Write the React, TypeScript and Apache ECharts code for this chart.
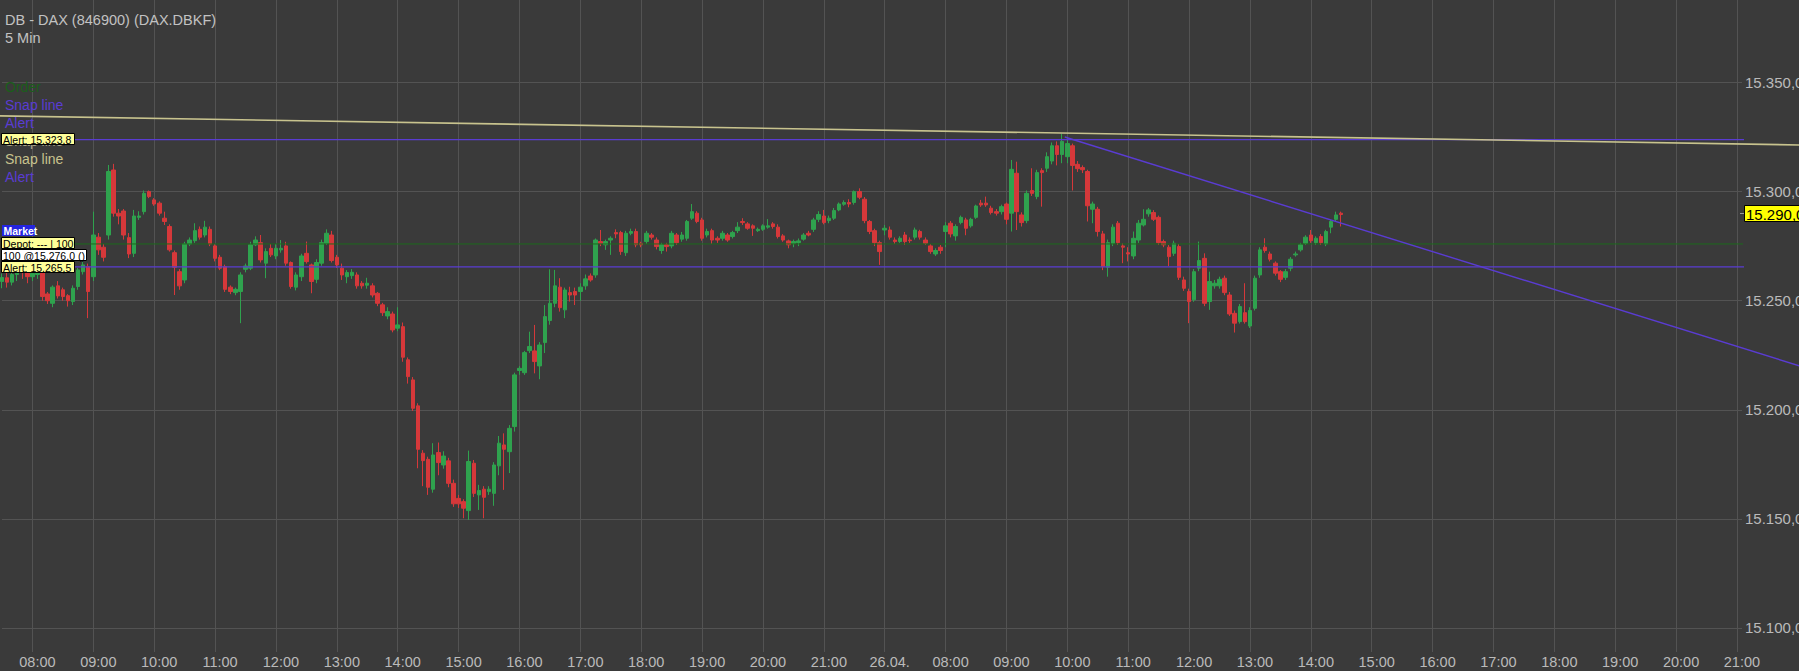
import React, { useEffect, useRef } from 'react';
import * as echarts from 'echarts';

// ---------- axis / category data ----------
const leadSlots = ['07:30', '07:35', '07:40', '07:45', '07:50', '07:55'];
const hourLabels = [
  '08:00', '09:00', '10:00', '11:00', '12:00', '13:00', '14:00', '15:00', '16:00', '17:00', '18:00', '19:00', '20:00', '21:00',
  '26.04.',
  '08:00', '09:00', '10:00', '11:00', '12:00', '13:00', '14:00', '15:00', '16:00', '17:00', '18:00', '19:00', '20:00', '21:00',
];
const lastHourSlots = 2;
const priceMin = 15089.0;
const priceMax = 15387.8;

// ---------- candles: [open, close, low, high] ----------
type Bar = [number, number, number, number];
const session1: Bar[] = [
  [15258.8, 15260.6, 15255.7, 15262.5], [15260.5, 15258.5, 15256.0, 15263.0], [15258.5, 15262.0, 15257.0, 15264.0],
  [15262.0, 15265.0, 15259.0, 15267.0], [15265.0, 15263.0, 15260.0, 15268.0], [15263.0, 15261.0, 15258.0, 15266.0],
  [15261.0, 15262.5, 15259.0, 15265.0], [15262.0, 15264.0, 15260.0, 15266.0], [15263.3, 15251.9, 15250.0, 15265.0],
  [15253.1, 15250.0, 15248.5, 15254.0], [15248.8, 15256.2, 15247.0, 15257.0], [15256.8, 15252.2, 15251.0, 15259.0],
  [15255.0, 15251.9, 15250.0, 15256.0], [15252.3, 15250.0, 15247.3, 15253.0], [15249.6, 15255.7, 15248.0, 15257.0],
  [15256.5, 15264.1, 15255.0, 15265.0], [15263.3, 15266.4, 15262.0, 15268.0], [15265.6, 15254.2, 15242.0, 15267.0],
  [15261.0, 15280.1, 15259.0, 15290.8], [15279.1, 15273.3, 15271.0, 15281.0], [15274.5, 15269.9, 15268.0, 15276.0],
  [15280.1, 15309.2, 15278.0, 15312.2], [15309.9, 15290.1, 15288.5, 15312.7], [15290.1, 15288.8, 15285.0, 15292.0],
  [15291.1, 15280.1, 15278.0, 15292.0], [15278.9, 15271.4, 15269.5, 15281.0], [15271.7, 15288.8, 15270.0, 15291.6],
  [15288.2, 15288.8, 15287.0, 15291.0], [15290.8, 15299.2, 15289.5, 15300.5], [15300.0, 15297.7, 15297.0, 15300.5],
  [15296.2, 15294.3, 15293.5, 15297.0], [15294.7, 15290.1, 15289.0, 15295.5], [15287.8, 15286.3, 15284.7, 15290.8],
  [15284.0, 15273.3, 15272.5, 15285.0], [15272.0, 15265.3, 15252.6, 15273.0], [15263.3, 15256.8, 15255.0, 15264.5],
  [15259.5, 15276.0, 15258.0, 15277.0], [15276.0, 15277.8, 15275.0, 15279.0], [15277.5, 15282.1, 15276.5, 15285.5],
  [15282.7, 15279.1, 15278.0, 15284.0], [15280.1, 15283.7, 15279.0, 15286.6], [15282.7, 15276.0, 15275.0, 15284.0],
  [15275.1, 15269.4, 15268.0, 15276.0], [15269.9, 15264.9, 15264.0, 15271.0], [15265.6, 15255.2, 15254.0, 15266.5],
  [15256.2, 15254.2, 15253.0, 15257.0], [15253.7, 15255.2, 15252.5, 15256.0], [15254.2, 15261.8, 15239.7, 15263.0],
  [15264.4, 15265.9, 15263.0, 15267.0], [15264.9, 15275.6, 15264.0, 15277.0], [15275.6, 15277.8, 15275.0, 15279.5],
  [15276.6, 15268.7, 15267.5, 15280.1], [15267.2, 15272.5, 15260.3, 15274.0], [15274.0, 15271.0, 15270.0, 15276.0],
  [15270.5, 15274.0, 15269.0, 15276.0],
];
const session2: Bar[] = [
  [15273.3, 15274.0, 15272.0, 15277.8], [15275.1, 15267.2, 15266.0, 15277.0], [15267.5, 15256.5, 15255.5, 15268.0],
  [15256.2, 15261.8, 15254.7, 15263.0], [15261.0, 15270.5, 15259.0, 15271.5], [15271.7, 15267.9, 15267.0, 15277.1],
  [15266.4, 15258.8, 15253.4, 15267.0], [15259.8, 15267.5, 15258.0, 15269.0], [15267.2, 15276.6, 15266.0, 15278.0],
  [15276.3, 15280.9, 15275.5, 15282.7], [15280.1, 15268.4, 15267.5, 15282.0], [15269.9, 15266.4, 15265.0, 15271.0],
  [15264.9, 15261.8, 15259.5, 15267.0], [15261.0, 15262.9, 15258.0, 15264.0], [15261.5, 15263.0, 15260.0, 15264.5],
  [15261.8, 15256.8, 15255.5, 15263.0], [15258.0, 15256.8, 15255.5, 15259.0], [15257.1, 15258.0, 15255.5, 15260.5],
  [15256.8, 15252.6, 15251.5, 15258.0], [15253.4, 15248.8, 15247.5, 15254.0], [15248.1, 15244.5, 15243.0, 15249.0],
  [15243.0, 15245.0, 15241.5, 15247.0], [15243.9, 15236.6, 15235.5, 15245.0], [15237.4, 15238.9, 15236.0, 15247.0],
  [15238.1, 15224.1, 15222.0, 15240.0], [15222.9, 15215.2, 15212.0, 15224.0], [15213.7, 15200.7, 15199.5, 15215.0],
  [15201.8, 15181.9, 15173.2, 15203.0], [15180.1, 15176.7, 15165.0, 15181.5], [15177.3, 15164.5, 15161.0, 15178.5],
  [15163.6, 15179.3, 15162.0, 15184.7], [15180.4, 15175.8, 15170.0, 15185.0], [15174.7, 15178.8, 15173.0, 15181.0],
  [15176.6, 15166.3, 15164.5, 15178.0], [15166.3, 15156.9, 15155.5, 15168.0], [15159.4, 15156.9, 15155.0, 15161.0],
  [15157.9, 15154.9, 15150.3, 15159.0], [15153.8, 15176.3, 15149.5, 15181.3], [15175.5, 15161.7, 15160.0, 15177.0],
  [15161.0, 15163.0, 15154.1, 15165.6], [15163.6, 15159.9, 15150.3, 15165.0], [15162.5, 15163.6, 15161.0, 15165.0],
  [15161.7, 15174.7, 15156.0, 15176.0], [15174.3, 15184.7, 15170.0, 15188.0], [15183.9, 15181.9, 15163.3, 15189.2],
  [15180.8, 15191.5, 15171.0, 15193.0], [15192.3, 15216.0, 15190.0, 15217.0], [15218.0, 15219.0, 15216.0, 15220.0],
  [15217.0, 15226.2, 15216.0, 15227.0], [15227.1, 15229.0, 15226.0, 15235.8], [15227.0, 15222.1, 15216.7, 15238.9],
  [15220.1, 15229.7, 15214.0, 15231.0], [15230.8, 15242.7, 15226.0, 15248.0], [15240.9, 15248.8, 15239.0, 15264.4],
  [15248.8, 15256.8, 15247.0, 15264.1], [15256.2, 15246.8, 15245.0, 15260.3], [15245.8, 15254.9, 15242.0, 15256.0],
  [15253.7, 15252.6, 15249.6, 15256.4], [15254.2, 15252.6, 15248.0, 15256.0], [15254.2, 15256.2, 15250.0, 15258.0],
  [15256.8, 15260.0, 15255.0, 15262.0], [15261.3, 15259.5, 15258.7, 15262.5], [15261.8, 15277.8, 15260.5, 15278.5],
  [15277.1, 15276.3, 15275.0, 15282.4], [15275.6, 15277.1, 15273.3, 15278.0], [15277.8, 15278.6, 15271.0, 15279.5],
];
const session3: Bar[] = [
  [15281.2, 15280.6, 15278.6, 15282.7], [15281.2, 15272.5, 15271.0, 15282.0], [15272.0, 15280.9, 15270.5, 15282.0],
  [15280.9, 15281.7, 15280.0, 15283.0], [15281.7, 15275.6, 15274.5, 15283.0], [15276.3, 15275.6, 15274.5, 15277.0],
  [15277.1, 15280.9, 15276.0, 15282.0], [15280.1, 15279.1, 15278.0, 15281.0], [15277.8, 15274.8, 15273.5, 15279.0],
  [15273.0, 15275.6, 15271.5, 15276.5], [15275.6, 15274.8, 15272.5, 15276.5], [15275.1, 15280.9, 15274.0, 15282.0],
  [15280.1, 15276.6, 15275.5, 15281.0], [15278.2, 15280.1, 15277.0, 15281.5], [15278.6, 15286.3, 15277.5, 15287.0],
  [15287.8, 15290.8, 15287.0, 15294.3], [15290.1, 15286.3, 15285.5, 15291.0], [15287.0, 15278.6, 15277.5, 15288.0],
  [15280.1, 15281.7, 15279.0, 15283.0], [15282.1, 15277.8, 15276.0, 15283.0], [15278.6, 15277.8, 15276.5, 15279.5],
  [15278.6, 15280.9, 15277.5, 15282.0], [15280.1, 15277.8, 15277.0, 15281.0], [15279.4, 15281.2, 15278.5, 15282.0],
  [15282.1, 15283.7, 15281.0, 15286.0], [15286.3, 15285.8, 15284.7, 15287.8], [15285.2, 15283.2, 15282.5, 15286.0],
  [15284.3, 15283.2, 15279.7, 15285.0], [15282.1, 15282.7, 15281.5, 15283.5], [15282.7, 15284.3, 15282.0, 15285.0],
  [15283.7, 15284.3, 15283.0, 15287.4], [15285.2, 15284.0, 15283.0, 15286.0], [15283.7, 15279.4, 15278.5, 15285.0],
  [15279.7, 15277.8, 15277.0, 15280.5], [15277.4, 15275.6, 15274.0, 15278.0], [15276.3, 15277.1, 15274.5, 15278.0],
  [15276.6, 15277.4, 15275.0, 15278.5], [15278.2, 15280.1, 15277.5, 15281.0], [15280.9, 15280.1, 15279.5, 15282.0],
  [15282.7, 15287.0, 15281.5, 15288.0], [15287.3, 15289.5, 15286.0, 15291.0], [15288.8, 15285.8, 15285.0, 15291.6],
  [15286.7, 15287.8, 15285.5, 15289.0], [15287.8, 15291.3, 15287.0, 15292.5], [15291.6, 15294.3, 15291.0, 15295.0],
  [15294.2, 15295.0, 15293.5, 15296.0], [15295.0, 15294.3, 15292.8, 15296.5], [15295.0, 15300.0, 15294.0, 15300.5],
  [15300.0, 15297.4, 15296.5, 15301.5], [15296.5, 15286.7, 15285.5, 15297.5], [15286.3, 15281.7, 15280.5, 15287.0],
  [15282.1, 15276.6, 15275.0, 15283.0], [15276.6, 15272.5, 15266.4, 15277.5], [15282.4, 15283.2, 15280.0, 15284.7],
  [15282.4, 15279.1, 15278.0, 15284.0], [15277.8, 15277.1, 15276.0, 15279.0], [15277.1, 15278.6, 15276.5, 15279.5],
  [15280.1, 15277.1, 15275.5, 15281.5], [15277.8, 15277.5, 15276.5, 15279.0], [15279.1, 15282.4, 15278.0, 15283.5],
  [15281.7, 15279.1, 15278.0, 15282.5], [15277.8, 15276.3, 15275.5, 15279.0], [15275.1, 15272.5, 15271.5, 15276.0],
  [15271.4, 15273.0, 15270.5, 15274.0], [15274.5, 15273.0, 15271.5, 15275.5],
];
const session4: Bar[] = [
  [15281.7, 15284.3, 15274.5, 15286.0], [15285.5, 15280.6, 15279.0, 15286.5], [15279.7, 15284.0, 15277.5, 15285.0],
  [15285.8, 15288.2, 15285.0, 15289.0], [15287.0, 15283.2, 15280.0, 15288.0], [15284.3, 15287.3, 15283.5, 15288.0],
  [15288.2, 15293.4, 15287.5, 15294.0], [15294.7, 15293.9, 15293.0, 15296.2], [15294.7, 15293.9, 15293.0, 15297.7],
  [15292.4, 15290.4, 15289.5, 15293.5], [15290.8, 15290.1, 15289.0, 15292.0], [15290.8, 15293.1, 15289.5, 15294.0],
  [15294.3, 15287.3, 15285.0, 15295.0], [15290.1, 15310.2, 15281.7, 15314.5], [15308.4, 15290.8, 15282.4, 15313.7],
  [15289.3, 15285.8, 15284.0, 15290.5], [15286.7, 15299.2, 15285.5, 15300.5], [15300.5, 15299.2, 15298.0, 15310.7],
  [15297.7, 15308.7, 15296.5, 15310.0], [15309.6, 15308.7, 15293.1, 15310.7], [15310.7, 15316.0, 15309.0, 15318.0],
  [15314.0, 15321.0, 15312.5, 15322.5], [15321.0, 15317.0, 15312.0, 15323.0], [15317.0, 15323.0, 15313.0, 15326.5],
  [15316.0, 15322.0, 15313.0, 15324.5], [15321.0, 15312.0, 15300.5, 15322.0], [15312.5, 15310.5, 15309.0, 15314.0],
  [15311.0, 15310.0, 15308.5, 15312.0], [15309.2, 15293.5, 15286.3, 15310.0], [15291.9, 15294.3, 15285.5, 15295.4],
  [15291.9, 15281.7, 15279.4, 15293.0], [15280.6, 15265.6, 15264.0, 15282.0], [15265.3, 15276.6, 15261.0, 15278.0],
  [15276.3, 15283.7, 15275.0, 15285.0], [15285.5, 15276.6, 15275.5, 15286.5], [15275.1, 15274.5, 15267.2, 15276.3],
  [15272.0, 15271.4, 15268.0, 15274.5], [15270.5, 15278.6, 15269.0, 15281.7], [15277.8, 15285.5, 15276.5, 15287.0],
  [15284.7, 15287.3, 15284.0, 15291.9], [15289.8, 15291.6, 15288.5, 15292.5], [15290.4, 15287.3, 15286.5, 15291.5],
  [15288.2, 15276.6, 15275.5, 15289.0], [15277.1, 15275.6, 15274.5, 15278.0], [15274.5, 15270.2, 15265.9, 15275.5],
  [15271.7, 15276.3, 15270.5, 15277.5], [15274.8, 15260.7, 15259.5, 15276.0], [15259.5, 15255.7, 15254.5, 15261.0],
  [15254.2, 15249.6, 15239.7, 15255.5], [15250.4, 15263.3, 15249.5, 15264.5], [15264.9, 15268.4, 15263.5, 15277.1],
  [15269.4, 15248.8, 15247.5, 15271.7], [15249.6, 15258.8, 15245.8, 15263.3], [15256.8, 15258.0, 15255.5, 15259.5],
  [15256.8, 15259.8, 15255.5, 15261.0], [15260.3, 15253.7, 15252.5, 15261.5], [15252.6, 15243.9, 15243.0, 15254.0],
  [15244.2, 15239.7, 15235.4, 15245.5], [15240.4, 15247.3, 15239.5, 15248.5], [15244.5, 15240.4, 15239.5, 15258.0],
  [15238.4, 15245.5, 15237.5, 15247.0], [15246.5, 15260.3, 15245.5, 15261.5], [15261.8, 15273.3, 15260.5, 15274.5],
  [15274.5, 15273.0, 15272.0, 15278.6], [15271.4, 15269.0, 15268.0, 15272.5], [15267.2, 15262.6, 15261.5, 15268.0],
  [15263.3, 15259.8, 15258.5, 15264.0], [15260.7, 15263.3, 15259.5, 15264.5], [15264.9, 15269.0, 15263.5, 15270.0],
  [15271.0, 15271.4, 15270.2, 15272.5], [15273.3, 15275.6, 15272.5, 15276.5], [15276.3, 15279.1, 15275.5, 15280.0],
  [15280.1, 15277.5, 15276.5, 15282.4], [15276.6, 15278.6, 15275.5, 15279.5], [15279.4, 15276.6, 15275.5, 15280.5],
  [15276.0, 15281.7, 15275.0, 15282.5], [15283.7, 15286.3, 15280.9, 15287.0], [15287.3, 15289.3, 15286.5, 15290.8],
  [15290.1, 15289.5, 15284.0, 15290.8],
];

// ---------- drawn lines (x in bar index units, y in price) ----------
const yellowSnapLine: [number, number][] = [[-0.4, 15334.7], [356.0, 15321.3]];
const purpleTrendLine: [number, number][] = [[209.5, 15325.0], [356.0, 15218.9]];
const alertUpper = 15323.8;
const alertLower = 15265.5;
const positionPrice = 15276.0;
const lastPrice = 15290.0;
const lineSpan = [-0.4, 343.4];

const fmtPrice = (v: number) => {
  const s = v.toFixed(1).replace('.', ',');
  const [ip, dp] = s.split(',');
  return ip.slice(0, ip.length - 3) + '.' + ip.slice(ip.length - 3) + ',' + dp;
};

const FONT = '"Liberation Sans", Arial, sans-serif';
const PURPLE = '#5a3cd2';
const KHAKI = '#c8c38e';
const GREEN_LINE = '#1d6a1d';
const GRID = '#535353';
const LABEL = '#bababa';

export default function App() {
  const ref = useRef<HTMLDivElement>(null);

  useEffect(() => {
    if (!ref.current) return;
    const chart = echarts.init(ref.current, undefined, { renderer: 'svg' });

    const categories: string[] = [];
    const tickLabelAt: Record<number, string> = {};
    leadSlots.forEach((s) => categories.push('pre ' + s));
    hourLabels.forEach((h, k) => {
      const n = k === hourLabels.length - 1 ? lastHourSlots : 12;
      for (let j = 0; j < n; j++) {
        if (j === 0) tickLabelAt[categories.length] = h;
        categories.push(`${k}:${j}`);
      }
    });
    const isHour = (idx: number) => tickLabelAt[idx] !== undefined;
    const candles = [...session1, ...session2, ...session3, ...session4];
    const hline = (p: number): [number, number][] => [[lineSpan[0], p], [lineSpan[1], p]];

    const lineSeries = (data: [number, number][], color: string, width: number) => ({
      type: 'line',
      xAxisIndex: 1,
      yAxisIndex: 0,
      data,
      showSymbol: false,
      symbol: 'none',
      clip: false,
      silent: true,
      lineStyle: { color, width },
      z: 5,
    });

    chart.setOption({
      animation: false,
      backgroundColor: '#3a3a3a',
      grid: { left: 2, right: 57, top: 0, bottom: 19, containLabel: false, outerBoundsMode: 'none' },
      xAxis: [
        {
          type: 'category',
          data: categories,
          boundaryGap: false,
          axisLine: { show: false },
          axisTick: { show: false },
          axisLabel: {
            interval: (idx: number) => isHour(idx),
            formatter: (_v: string, idx: number) => tickLabelAt[idx] ?? '',
            color: LABEL,
            fontSize: 14.5,
            fontFamily: FONT,
            margin: 2,
            padding: [0, 0, 0, 10],
          },
          splitLine: { show: true, interval: (idx: number) => isHour(idx), lineStyle: { color: GRID, width: 1 } },
        },
        { type: 'value', min: 0, max: categories.length - 1, show: false },
      ],
      yAxis: {
        type: 'value',
        position: 'right',
        min: priceMin,
        max: priceMax,
        splitNumber: 6,
        scale: true,
        axisLine: { show: false },
        axisTick: { show: false },
        axisLabel: {
          color: LABEL,
          fontSize: 15,
          fontFamily: FONT,
          margin: 3,
          showMinLabel: false,
          showMaxLabel: false,
          formatter: (v: number) => (Math.abs(v % 50) < 1e-6 ? fmtPrice(v) : ''),
        },
        splitLine: { show: true, showMinLine: false, showMaxLine: false, lineStyle: { color: GRID, width: 1 } },
      },
      series: [
        {
          type: 'candlestick',
          xAxisIndex: 0,
          data: candles,
          barWidth: 4,
          silent: true,
          itemStyle: {
            color: '#2fa24e',
            color0: '#d5383a',
            borderColor: '#2fa24e',
            borderColor0: '#d5383a',
            borderWidth: 1,
          },
        },
        lineSeries(hline(positionPrice), GREEN_LINE, 1),
        lineSeries(hline(alertLower), PURPLE, 1.3),
        lineSeries(hline(alertUpper), PURPLE, 1.3),
      ],
    });

    const py = (p: number) => chart.convertToPixel({ yAxisIndex: 0 }, p) as number;
    const px = (i: number) => chart.convertToPixel({ xAxisIndex: 1 }, i) as number;
    const yA1 = py(alertUpper);
    const yA2 = py(alertLower);
    const yCur = py(lastPrice);

    const sloped = (pts: [number, number][], color: string, width: number) => ({
      type: 'line', z: 50, silent: true,
      shape: { x1: px(pts[0][0]), y1: py(pts[0][1]), x2: px(pts[1][0]), y2: py(pts[1][1]) },
      style: { stroke: color, lineWidth: width },
    });

    const box = (x: number, y: number, w: number, h: number, fill: string, text: string, color: string) => [
      { type: 'rect', z: 100, shape: { x: x + 0.5, y: Math.round(y) + 0.5, width: w, height: h }, style: { fill, stroke: '#000', lineWidth: 1 } },
      {
        type: 'text', z: 101, x: x + 2, y: Math.round(y) + 0.5 + h / 2 + 0.5,
        style: { text, fill: color, font: `10.5px ${FONT}`, verticalAlign: 'middle', align: 'left' },
      },
    ];
    const label = (text: string, y: number, color: string, size = 14) => ({
      type: 'text', z: 90, x: 5, y,
      style: { text, fill: color, font: `${size}px ${FONT}`, verticalAlign: 'middle', align: 'left' },
    });

    chart.setOption({
      graphic: [
        sloped(yellowSnapLine, KHAKI, 1.6),
        sloped(purpleTrendLine, PURPLE, 1.4),
        label('DB - DAX (846900) (DAX.DBKF)', 20, '#c2c2c2', 14.5),
        label('5 Min', 37.5, '#c2c2c2', 14.5),
        label('Order', 87, '#1a5e1a'),
        label('Snap line', 105, PURPLE),
        label('Alert', 123, PURPLE),
        label('Snap line', 141, '#a9a68a'),
        label('Snap line', 158.5, KHAKI),
        label('Alert', 176.5, PURPLE),
        ...box(1, yA1 - 7, 73, 11, '#ffff99', 'Alert: 15.323,8', '#000'),
        { type: 'rect', z: 100, shape: { x: 2, y: Math.round(yA2) - 42, width: 33, height: 11 }, style: { fill: '#2424e0' } },
        {
          type: 'text', z: 101, x: 3.5, y: Math.round(yA2) - 36.5,
          style: { text: 'Market', fill: '#ffffff', font: `bold 10.5px ${FONT}`, verticalAlign: 'middle', align: 'left' },
        },
        ...box(1, yA2 - 30, 73, 11, '#ffff99', 'Depot: --- | 100', '#000'),
        ...box(1, yA2 - 18, 85, 11, '#ffffff', '100 @15.276,0 ()', '#000'),
        ...box(1, yA2 - 6, 73, 11, '#ffff99', 'Alert: 15.265,5', '#000'),
        { type: 'line', z: 100, shape: { x1: 1740, y1: Math.round(yCur) + 0.5, x2: 1744, y2: Math.round(yCur) + 0.5 }, style: { stroke: '#9a9a9a', lineWidth: 1 } },
        { type: 'rect', z: 100, shape: { x: 1744.5, y: Math.round(yCur) - 8 + 0.5, width: 60, height: 16 }, style: { fill: '#ffff00', stroke: '#000', lineWidth: 1 } },
        {
          type: 'text', z: 101, x: 1746, y: Math.round(yCur) + 1,
          style: { text: fmtPrice(lastPrice), fill: '#000', font: `15px ${FONT}`, verticalAlign: 'middle', align: 'left' },
        },
      ],
    });

    return () => chart.dispose();
  }, []);

  return (
    <div
      ref={ref}
      style={{ position: 'fixed', left: 0, top: 0, width: 1799, height: 671, background: '#3a3a3a' }}
    />
  );
}
